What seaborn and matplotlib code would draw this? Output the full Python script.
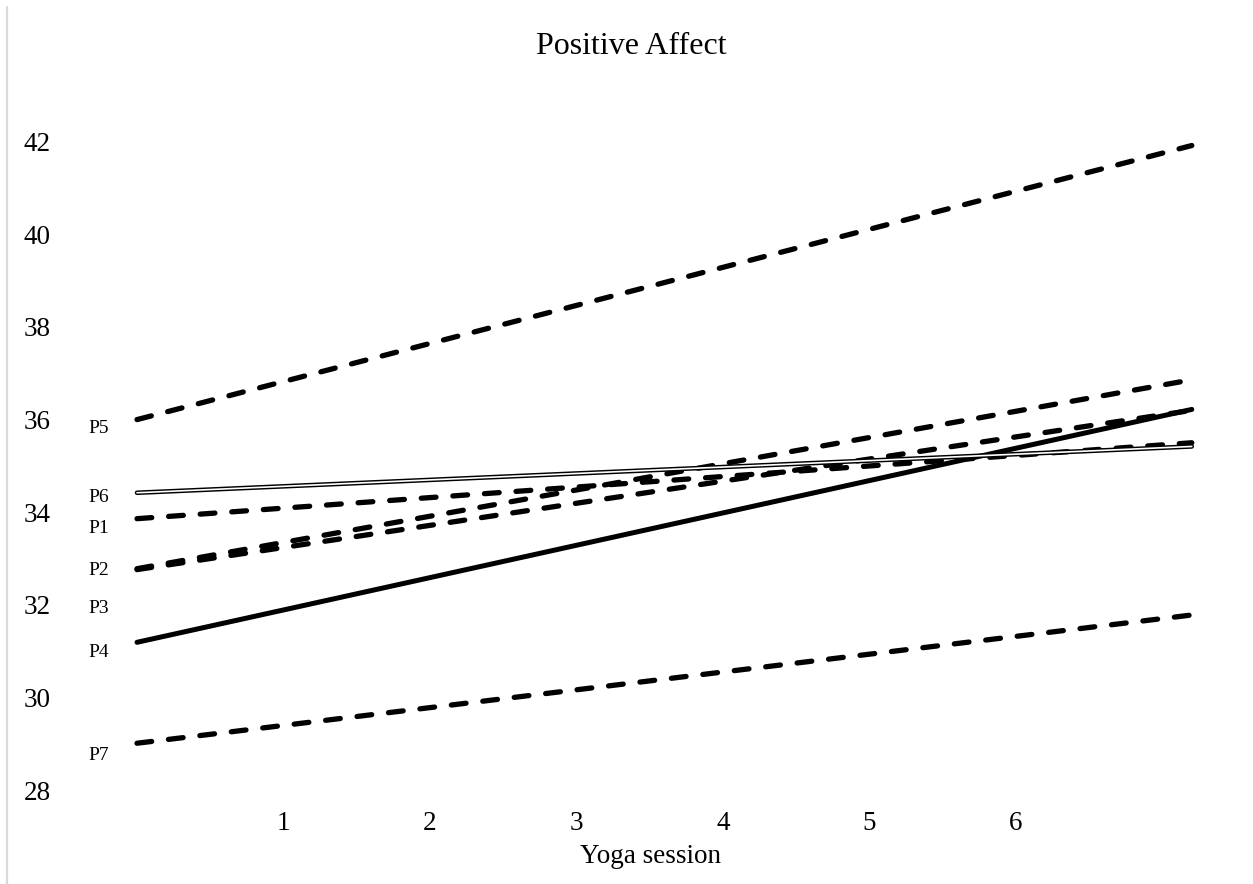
import pandas as pd
import matplotlib.pyplot as plt
import seaborn as sns
from matplotlib.lines import Line2D

# trend lines for positive affect per participant (start / end value)
participants = ['P1', 'P2', 'P3', 'P4', 'P5', 'P6', 'P7']
pa_start = [33.86, 32.78, 32.76, 31.19, 36.00, 34.42, 29.01]
pa_end = [35.50, 36.86, 36.20, 36.22, 41.92, 35.42, 31.78]
session_span = [0, 7.2]
line_kind = ['dash', 'dash', 'dash', 'solid', 'dash', 'double', 'dash']

# where the participant labels sit on the y axis
label_y = [33.65, 32.74, 31.92, 30.97, 35.80, 34.31, 28.75]

y_ticks = [28, 30, 32, 34, 36, 38, 40, 42]
x_ticks = [1, 2, 3, 4, 5, 6]

rows = []
for p, s, e in zip(participants, pa_start, pa_end):
    rows.append({'participant': p, 'session': session_span[0], 'pa': s})
    rows.append({'participant': p, 'session': session_span[1], 'pa': e})
df = pd.DataFrame(rows)

sns.set_style('white')
plt.rcParams['font.family'] = ['Liberation Serif', 'DejaVu Serif']
plt.rcParams['text.color'] = 'black'
plt.rcParams['xtick.color'] = 'black'
plt.rcParams['ytick.color'] = 'black'
plt.rcParams['axes.labelcolor'] = 'black'

fig = plt.figure(figsize=(12.53, 8.84), dpi=100)
ax = fig.add_axes([137 / 1253, 94 / 884, 7.3 * 146.5 / 1253, 15.5 * 46.3 / 884])

for p, kind in zip(participants, line_kind):
    sub = df[df['participant'] == p]
    if kind == 'dash':
        sns.lineplot(data=sub, x='session', y='pa', ax=ax, color='black', lw=3.8,
                     linestyle=(0, (2.8, 3.2)), dash_capstyle='round', clip_on=False)
    elif kind == 'solid':
        sns.lineplot(data=sub, x='session', y='pa', ax=ax, color='black', lw=3.6,
                     solid_capstyle='round', clip_on=False)
    else:
        sns.lineplot(data=sub, x='session', y='pa', ax=ax, color='black', lw=3.3,
                     solid_capstyle='round', clip_on=False)
        sns.lineplot(data=sub, x='session', y='pa', ax=ax, color='white', lw=1.2,
                     solid_capstyle='round', clip_on=False)

for p, ly in zip(participants, label_y):
    ax.text(-0.19, ly, p, ha='right', va='center', fontsize=14, color='black')

ax.set_xlim(0, 7.3)
ax.set_ylim(28, 43.5)
ax.set_yticks(y_ticks)
ax.set_xticks(x_ticks)
ax.tick_params(axis='y', length=0, pad=62, labelsize=19.5)
ax.tick_params(axis='x', length=0, pad=15, labelsize=19.5)
for s in ax.spines.values():
    s.set_visible(False)
ax.set_ylabel('')
ax.set_xlabel('Yoga session', fontsize=19.5)
ax.xaxis.set_label_coords(0.48, -0.075)

fig.text(631 / 1253, 1 - 47 / 884, 'Positive Affect', ha='center', va='center',
         fontsize=23, color='black')
fig.add_artist(Line2D([7 / 1253, 7 / 1253], [0, 1 - 7 / 884], color='#d9d9d9', lw=1.6))

fig.savefig('out.png', dpi=100)
